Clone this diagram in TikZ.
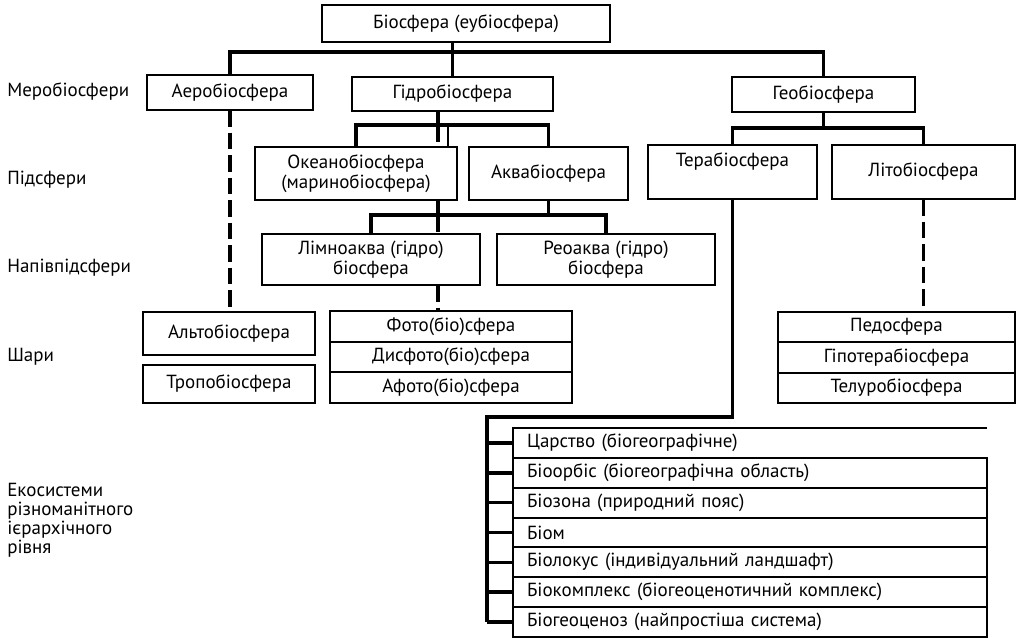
\documentclass[tikz,border=0pt]{standalone}
\usepackage{fontspec}
\setmainfont{PT Sans}
\usetikzlibrary{positioning,calc}

\begin{document}
\begin{tikzpicture}[
  x=0.025cm, y=-0.025cm,
  font=\fontsize{13.5}{14.5}\selectfont,
  box/.style={draw, line width=1.4pt, inner sep=0pt, outer sep=0pt, align=center},
  layer/.style={box, minimum width=#1, minimum height=0.76cm},
  row/.style={box, minimum width=11.85cm, minimum height=0.746cm,
    text width=11.15cm, align=left},
  link/.style={line width=2.5pt},
  hint/.style={line width=2.5pt, dash pattern=on 12pt off 4pt},
  lvl/.style={anchor=west, align=left, inner sep=0pt}]
\useasboundingbox (0,0) rectangle (1021,638);
% level captions
\node[lvl] (mero) at (7,92) {Меробіосфери};
\node[lvl] (pids) at (7,180) {Підсфери};
\node[lvl] (napiv) at (7,268) {Напівпідсфери};
\node[lvl] (shary) at (7,357) {Шари};
\node[lvl, font=\fontsize{13.5}{13.5}\selectfont] (eco) at (7,520)
  {Екосистеми\\різноманітного\\ієрархічного\\рівня};
% spheres
\node[box, minimum width=7.2cm, minimum height=0.925cm] (top) at (466,23.5) {Біосфера (еубіосфера)};
\node[box, minimum width=4.15cm, minimum height=0.875cm] (aero) at (230,92.5) {Аеробіосфера};
\node[box, minimum width=5.025cm, minimum height=0.85cm] (hydro) at (452.5,94) {Гідробіосфера};
\node[box, minimum width=4.575cm, minimum height=0.875cm] (geo) at (823.5,94.5) {Геобіосфера};
\node[box, minimum width=5.05cm, minimum height=1.325cm] (okean) at (356,173.5) {Океанобіосфера\\(маринобіосфера)};
\node[box, minimum width=3.975cm, minimum height=1.325cm] (aqua) at (548.5,173.5) {Аквабіосфера};
\node[box, minimum width=4.225cm, minimum height=1.35cm, text depth=0.6cm] (tera) at (732.5,172) {Терабіосфера};
\node[box, minimum width=4.575cm, minimum height=1.35cm] (lito) at (923.5,172) {Літобіосфера};
\node[box, minimum width=5.45cm, minimum height=1.275cm] (limno) at (371,259.5) {Лімноаква (гідро)\\біосфера};
\node[box, minimum width=5.45cm, minimum height=1.275cm] (reo) at (606,259.5) {Реоаква (гідро)\\біосфера};
% layers
\node[box, minimum width=4.3cm, minimum height=1.075cm] (alto) at (229,333.5) {Альтобіосфера};
\node[box, minimum width=4.3cm, minimum height=0.95cm] (tropo) at (229,384) {Тропобіосфера};
\node[layer=6.05cm] (foto) at (451,326.5) {Фото(біо)сфера};
\node[layer=6.05cm, below=0pt of foto] (disfoto) {Дисфото(біо)сфера};
\node[layer=6.05cm, below=0pt of disfoto] (afoto) {Афото(біо)сфера};
\node[layer=5.925cm] (pedo) at (896.5,327) {Педосфера};
\node[layer=5.925cm, below=0pt of pedo] (hipo) {Гіпотерабіосфера};
\node[layer=5.925cm, below=0pt of hipo] (telur) {Телуробіосфера};
% ecosystems
\node[row, draw=none, anchor=north west] (r1) at (513,428) {Царство (біогеографічне)};
\node[row, below=0pt of r1] (r2) {Біоорбіс (біогеографічна область)};
\node[row, below=0pt of r2] (r3) {Біозона (природний пояс)};
\node[row, below=0pt of r3] (r4) {Біом};
\node[row, below=0pt of r4] (r5) {Біолокус (індивідуальний ландшафт)};
\node[row, below=0pt of r5] (r6) {Біокомплекс (біогеоценотичний комплекс)};
\node[row, below=0pt of r6] (r7) {Біогеоценоз (найпростіша система)};
\draw[line width=0.9pt] (r1.north east) -- (r1.north west) -- (r1.south west);
% connectors
\coordinate (tbar) at (0,52);
\coordinate (hbar) at (438,125);
\coordinate (lbar) at (438,215);
\coordinate (gbar) at (0,128);
\coordinate (brk) at (487,417);
\draw[link] (aero.north) |- (geo.north |- tbar) -- (geo.north);
\draw[link] (top.south -| hydro.north) -- (hydro.north);
\draw[link] (hbar |- hydro.south) -- (hbar);
\draw[link] (okean.north) |- (aqua.north |- hbar) -- (aqua.north);
\draw[hint] (hbar) -- (hbar |- okean.north);
\draw[line width=1.4pt] ($(hbar)+(10,0)$) -- ($(hbar |- okean.north)+(10,0)$);
\draw[link] (lbar |- okean.south) -- (lbar);
\draw[link] (aqua.south) -- (aqua.south |- lbar);
\draw[link] (limno.north) |- (reo.north |- lbar) -- (reo.north);
\draw[hint] (lbar) -- (lbar |- limno.north);
\draw[hint] (lbar |- limno.south) -- (lbar |- foto.north);
\draw[hint] (aero.south) -- (aero.south |- alto.north);
\draw[link] (geo.south) -- (geo.south |- gbar);
\draw[link] (tera.north) |- (lito.north |- gbar) -- (lito.north);
\draw[hint] (lito.south) -- (lito.south |- pedo.north);
\draw[link] (tera.south) |- (brk) -- (brk |- r7.west);
\foreach \r in {r1,r2,r3,r4,r5,r6,r7}
  \draw[link] (brk |- \r.west) -- (\r.west);
\end{tikzpicture}
\end{document}
